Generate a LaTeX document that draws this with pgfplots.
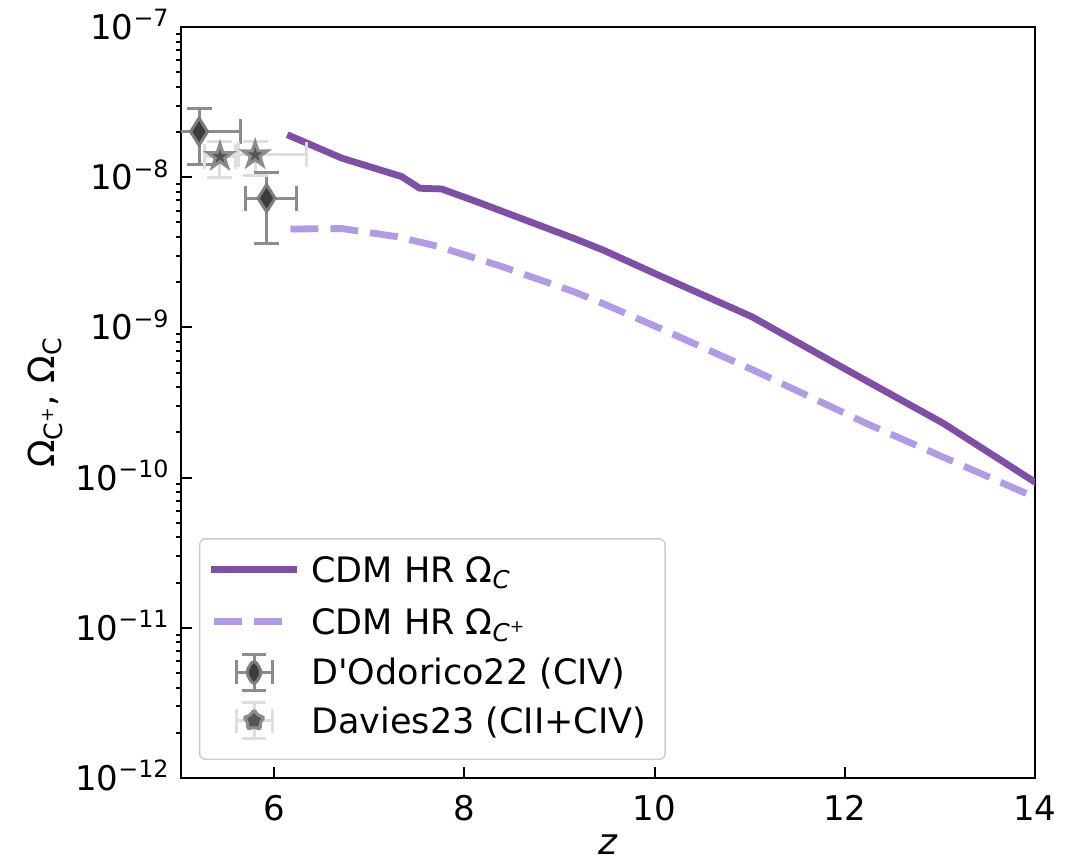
\documentclass[border=0pt]{standalone}
\usepackage{fontspec}
\setmainfont{DejaVu Sans}
\newfontfamily\nomap{DejaVu Sans}
\usepackage{pgfplots}
\pgfplotsset{compat=1.18}
\usepackage{pgfplotstable}

\definecolor{cdm}{RGB}{127,78,166}
\definecolor{cdmlight}{RGB}{178,155,230}
\definecolor{errd}{RGB}{140,140,140}
\definecolor{errs}{RGB}{222,222,222}
\definecolor{dfill}{RGB}{60,60,60}
\definecolor{dedge}{RGB}{125,125,125}
\definecolor{sfill}{RGB}{85,85,85}
\definecolor{sedge}{RGB}{140,140,140}

\pgfdeclareplotmark{fstar}{%
  \pgfpathmoveto{\pgfpointpolar{90}{\pgfplotmarksize}}%
  \pgfpathlineto{\pgfpointpolar{126}{0.382\pgfplotmarksize}}%
  \pgfpathlineto{\pgfpointpolar{162}{\pgfplotmarksize}}%
  \pgfpathlineto{\pgfpointpolar{198}{0.382\pgfplotmarksize}}%
  \pgfpathlineto{\pgfpointpolar{234}{\pgfplotmarksize}}%
  \pgfpathlineto{\pgfpointpolar{270}{0.382\pgfplotmarksize}}%
  \pgfpathlineto{\pgfpointpolar{306}{\pgfplotmarksize}}%
  \pgfpathlineto{\pgfpointpolar{342}{0.382\pgfplotmarksize}}%
  \pgfpathlineto{\pgfpointpolar{18}{\pgfplotmarksize}}%
  \pgfpathlineto{\pgfpointpolar{54}{0.382\pgfplotmarksize}}%
  \pgfpathclose
  \pgfusepathqfillstroke
}

\pgfplotstableread{
z y
6.17 1.88e-8
6.71 1.34e-8
7.34 1.01e-8
7.53 8.44e-9
7.76 8.35e-9
8.13 6.87e-9
9.15 3.92e-9
9.46 3.27e-9
10.04 2.23e-9
11.02 1.18e-9
12.09 4.93e-10
13.04 2.29e-10
14.00 9.33e-11
}\omegac

\pgfplotstableread{
z y
6.17 4.52e-9
6.71 4.55e-9
7.29 4.02e-9
7.71 3.48e-9
8.38 2.56e-9
9.15 1.73e-9
9.46 1.44e-9
10.06 9.84e-10
11.04 5.19e-10
12.23 2.29e-10
13.00 1.40e-10
14.00 7.40e-11
}\omegacp

% D'Odorico22 points and error-bar end points
\pgfplotstableread{
z y
5.21 2.01e-8
5.92 7.24e-9
}\dodorico
\pgfplotstableread{
z y
5.21 2.88e-8
5.21 1.21e-8
nan nan
5.92 1.07e-8
5.92 3.63e-9
}\dodoricoyerr
\pgfplotstableread{
z y
4.77 2.01e-8
5.65 2.01e-8
nan nan
5.695 7.24e-9
6.23 7.24e-9
}\dodoricoxerr

% Davies23 points and error-bar end points
\pgfplotstableread{
z y
5.43 1.37e-8
5.80 1.41e-8
}\davies
\pgfplotstableread{
z y
5.43 1.73e-8
5.43 1.00e-8
nan nan
5.80 1.73e-8
5.80 1.02e-8
}\daviesyerr
\pgfplotstableread{
z y
5.27 1.37e-8
5.59 1.37e-8
nan nan
5.62 1.41e-8
6.34 1.41e-8
}\daviesxerr

\begin{document}
\begin{tikzpicture}
\useasboundingbox (-90.5pt,-43.5pt) rectangle (451.5pt,389pt);
\begin{axis}[
  at={(0pt,0pt)}, anchor=south west,
  width=427pt, height=375.5pt, scale only axis,
  ymode=log,
  xmin=5.02, xmax=14, ymin=1e-12, ymax=1e-7,
  unbounded coords=jump,
  xtick={6,8,10,12,14}, xticklabels={6,8,10,12,14},
  ytick={1e-12,1e-11,1e-10,1e-9,1e-8,1e-7},
  yticklabels={10\textsuperscript{−12},10\textsuperscript{−11},10\textsuperscript{−10},10\textsuperscript{−9},10\textsuperscript{−8},10\textsuperscript{−7}},
  minor ytick={2e-12,3e-12,4e-12,5e-12,6e-12,7e-12,8e-12,9e-12,
               2e-11,3e-11,4e-11,5e-11,6e-11,7e-11,8e-11,9e-11,
               2e-10,3e-10,4e-10,5e-10,6e-10,7e-10,8e-10,9e-10,
               2e-9,3e-9,4e-9,5e-9,6e-9,7e-9,8e-9,9e-9,
               2e-8,3e-8,4e-8,5e-8,6e-8,7e-8,8e-8,9e-8},
  tick pos=left,
  tick align=inside,
  major tick length=5.5pt,
  minor tick length=2.5pt,
  every minor tick/.append style={xshift=-2.5pt},
  axis line style={line width=1pt},
  tick style={line width=1pt, black},
  ticklabel style={font=\fontsize{17}{20}\selectfont},
  xticklabel style={anchor=base, inner sep=0pt, yshift=-21pt},
  yticklabel style={anchor=base east, inner sep=0pt, xshift=-5.5pt, yshift=-6.2pt},
  xlabel={\textit{z}},
  ylabel={Ω\textsubscript{C\textsuperscript{+}}, Ω\textsubscript{C}},
  every axis x label/.style={at={(axis description cs:0.5,-0.089)}, anchor=center, font=\fontsize{18}{21}\selectfont},
  every axis y label/.style={at={(axis description cs:-0.159,0.5)}, anchor=center, rotate=90, font=\fontsize{18}{21}\selectfont},
  legend cell align=left,
  legend style={at={(0.021,0.024)}, anchor=south west,
    draw=black!20, line width=0.7pt, rounded corners=3pt, fill=white,
    font=\fontsize{17.5}{20}\selectfont,
    inner xsep=5.5pt, inner ysep=5pt, row sep=0pt, column sep=7pt,
    nodes={inner xsep=0pt, inner ysep=0pt, anchor=west, text height=12.6pt, text depth=0pt}},
]
\addplot[cdm, line width=3.4pt, line join=round, line cap=rect,
  legend image code/.code={\path (0pt,-14pt) (40pt,8.6pt); \draw[cdm, line width=3.4pt] (0pt,0pt)--(40pt,0pt);}]
  table[x=z, y=y]{\omegac};
\addlegendentry{CDM HR Ω\textsubscript{\textit{C}}}

\addplot[cdmlight, line width=3.4pt, line join=round, dash pattern=on 14pt off 6pt,
  legend image code/.code={\path (0pt,-14pt) (40pt,8.6pt); \draw[cdmlight, line width=3.4pt, dash pattern=on 14pt off 6pt] (0pt,0pt)--(40pt,0pt);}]
  table[x=z, y=y]{\omegacp};
\addlegendentry{CDM HR Ω\textsubscript{\textit{C}\textsuperscript{+}}}

% D'Odorico22 error bars
\addplot[errd, line width=1.5pt, mark=-, mark size=6.25pt, mark options={solid, line width=1.5pt}, forget plot]
  table[x=z, y=y]{\dodoricoyerr};
\addplot[errd, line width=1.5pt, mark=|, mark size=6.25pt, mark options={solid, line width=1.5pt}, forget plot]
  table[x=z, y=y]{\dodoricoxerr};
\addplot[only marks, mark=diamond*, mark size=6.75pt,
  mark options={xscale=0.84, fill=dfill, draw=dedge, line width=1.5pt},
  legend image code/.code={
    \path (0pt,-14pt) (40pt,8.6pt);
    \draw[errd, line width=1.5pt] (11pt,0pt)--(29pt,0pt) (20pt,-9pt)--(20pt,9pt)
      (11pt,-6pt)--(11pt,6pt) (29pt,-6pt)--(29pt,6pt) (14pt,9pt)--(26pt,9pt) (14pt,-9pt)--(26pt,-9pt);
    \filldraw[fill=dfill, draw=dedge, line width=1.5pt] (20pt,6.75pt)--(24.25pt,0pt)--(20pt,-6.75pt)--(15.75pt,0pt)--cycle;}]
  table[x=z, y=y]{\dodorico};
\addlegendentry{D{\nomap '}Odorico22 (CIV)}

% Davies23 error bars
\addplot[errs, line width=1.5pt, mark=-, mark size=6.25pt, mark options={solid, line width=1.5pt}, forget plot]
  table[x=z, y=y]{\daviesyerr};
\addplot[errs, line width=1.5pt, mark=|, mark size=6.25pt, mark options={solid, line width=1.5pt}, forget plot]
  table[x=z, y=y]{\daviesxerr};
\addplot[only marks, mark=fstar, mark size=6.5pt,
  mark options={fill=sfill, draw=sedge, line width=1.5pt},
  legend image code/.code={
    \path (0pt,-14pt) (40pt,8.6pt);
    \draw[errs, line width=1.5pt] (11pt,0pt)--(29pt,0pt) (20pt,-9pt)--(20pt,9pt)
      (11pt,-6pt)--(11pt,6pt) (29pt,-6pt)--(29pt,6pt) (14pt,9pt)--(26pt,9pt) (14pt,-9pt)--(26pt,-9pt);
    \begin{scope}[shift={(20pt,0pt)}]
    \filldraw[fill=sfill, draw=sedge, line width=1.5pt] (90:6.5pt)--(126:2.48pt)--(162:6.5pt)--(198:2.48pt)--(234:6.5pt)--(270:2.48pt)--(306:6.5pt)--(342:2.48pt)--(18:6.5pt)--(54:2.48pt)--cycle;
    \end{scope}}]
  table[x=z, y=y]{\davies};
\addlegendentry{Davies23 (CII+CIV)\hspace*{4pt}}
\end{axis}
\end{tikzpicture}
\end{document}
